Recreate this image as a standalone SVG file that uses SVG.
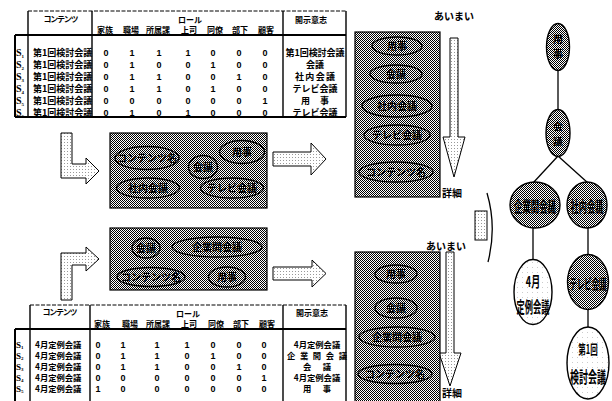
<svg xmlns="http://www.w3.org/2000/svg" width="612" height="401" viewBox="0 0 612 401">
<defs>
<pattern id="dk" width="2" height="2" patternUnits="userSpaceOnUse">
<rect width="2" height="2" fill="#fff"/>
<rect width="1" height="1" fill="#000"/>
<rect x="1" y="1" width="1" height="1" fill="#000"/>
</pattern>
<pattern id="lt" width="3" height="3" patternUnits="userSpaceOnUse">
<rect width="3" height="3" fill="#fff"/>
<rect x="1" y="1" width="1" height="1" fill="#999"/>
</pattern>
<pattern id="wt" width="5" height="5" patternUnits="userSpaceOnUse">
<rect width="5" height="5" fill="#fff"/>
<rect x="2" y="2" width="1" height="1" fill="#ccc"/>
</pattern>
</defs>
<style>
text{font-family:"Noto Sans CJK JP","Liberation Sans",sans-serif;font-weight:bold;fill:#000}
.m{text-anchor:middle}
.hd{font-size:8px;text-anchor:middle}
.tb{font-size:9px}
.tb2{font-size:8.3px}
.num{font-family:"Liberation Sans",sans-serif;font-size:9px;text-anchor:middle}
.s{font-family:"Liberation Serif",serif;font-size:10px}
.s2{font-family:"Liberation Serif",serif;font-size:9px}
.lb{font-size:10px;text-anchor:middle}
.tr{text-anchor:middle}
.ln{stroke:#000;fill:none}
.thin{stroke:#000;stroke-width:1.4;fill:none}
.thick{stroke:#000;stroke-width:2;fill:none}
.dash{stroke:#000;stroke-width:1;stroke-dasharray:4 1.5;fill:none}
.box{fill:url(#dk);stroke:#000;stroke-width:1.2}
.el{fill:url(#dk);stroke:#000;stroke-width:1.4}
.ew{fill:url(#wt);stroke:#000;stroke-width:1.4}
.arr{fill:url(#lt);stroke:#000;stroke-width:1}
</style>

<!-- top table -->
<g id="table-top">
<path class="dash" d="M28,11 H346"/>
<path class="thick" d="M15,35 H346 M15,117 H346 M15,35 V117"/>
<path class="thin" d="M28,11 V117 M92,11 V117 M283,11 V117 M346,11 V117"/>
<text class="hd" x="61" y="22" textLength="35">コンテンツ</text>
<text class="hd" x="190" y="23">ロール</text>
<text class="hd" x="311" y="23">開示意志</text>
<text class="hd" x="105" y="33">家族</text>
<text class="hd" x="131" y="33">職場</text>
<text class="hd" x="158" y="33">所属課</text>
<text class="hd" x="189" y="33">上司</text>
<text class="hd" x="215" y="33">同僚</text>
<text class="hd" x="240" y="33">部下</text>
<text class="hd" x="266" y="33">顧客</text>
<g id="top-r1"><text class="s" x="16" y="55.5">S<tspan font-size="5" dy="2">1</tspan></text><text class="tb" x="33" y="55.5">第1回検討会議</text>
<text class="num" y="55.5"><tspan x="106">0</tspan><tspan x="132">1</tspan><tspan x="159">1</tspan><tspan x="188">1</tspan><tspan x="213">0</tspan><tspan x="239">0</tspan><tspan x="265">0</tspan></text>
<text class="tb m" x="315" y="55.5" textLength="59">第1回検討会議</text></g>
<g id="top-r2"><text class="s" x="16" y="67.5">S<tspan font-size="5" dy="2">2</tspan></text><text class="tb" x="33" y="67.5">第1回検討会議</text>
<text class="num" y="67.5"><tspan x="106">0</tspan><tspan x="132">1</tspan><tspan x="159">0</tspan><tspan x="188">0</tspan><tspan x="213">1</tspan><tspan x="239">0</tspan><tspan x="265">0</tspan></text>
<text class="tb m" x="315" y="67.5">会議</text></g>
<g id="top-r3"><text class="s" x="16" y="79.5">S<tspan font-size="5" dy="2">3</tspan></text><text class="tb" x="33" y="79.5">第1回検討会議</text>
<text class="num" y="79.5"><tspan x="106">0</tspan><tspan x="132">1</tspan><tspan x="159">1</tspan><tspan x="188">0</tspan><tspan x="213">0</tspan><tspan x="239">1</tspan><tspan x="265">0</tspan></text>
<text class="tb m" x="315" y="79.5" textLength="40">社内会議</text></g>
<g id="top-r4"><text class="s" x="16" y="91.5">S<tspan font-size="5" dy="2">4</tspan></text><text class="tb" x="33" y="91.5">第1回検討会議</text>
<text class="num" y="91.5"><tspan x="106">0</tspan><tspan x="132">1</tspan><tspan x="159">1</tspan><tspan x="188">0</tspan><tspan x="213">1</tspan><tspan x="239">0</tspan><tspan x="265">0</tspan></text>
<text class="tb m" x="315" y="91.5">テレビ会議</text></g>
<g id="top-r5"><text class="s" x="16" y="103.5">S<tspan font-size="5" dy="2">5</tspan></text><text class="tb" x="33" y="103.5">第1回検討会議</text>
<text class="num" y="103.5"><tspan x="106">0</tspan><tspan x="132">0</tspan><tspan x="159">0</tspan><tspan x="188">0</tspan><tspan x="213">0</tspan><tspan x="239">0</tspan><tspan x="265">1</tspan></text>
<text class="tb m" x="315" y="103.5" textLength="28">用事</text></g>
<g id="top-r6"><text class="s" x="16" y="115.5">S<tspan font-size="5" dy="2">6</tspan></text><text class="tb" x="33" y="115.5">第1回検討会議</text>
<text class="num" y="115.5"><tspan x="106">0</tspan><tspan x="132">1</tspan><tspan x="159">0</tspan><tspan x="188">1</tspan><tspan x="213">0</tspan><tspan x="239">0</tspan><tspan x="265">0</tspan></text>
<text class="tb m" x="315" y="115.5">テレビ会議</text></g>
</g>

<!-- bottom table -->
<g id="table-bottom">
<path class="dash" d="M30,305 H346"/>
<path class="thick" d="M15,329 H346 M15,329 V401"/>
<path class="thin" d="M30,305 V401 M90,305 V401 M283,305 V401 M346,305 V401"/>
<text class="hd" x="60" y="315" textLength="35">コンテンツ</text>
<text class="hd" x="188" y="317">ロール</text>
<text class="hd" x="312" y="316">開示意志</text>
<text class="hd" x="102" y="327">家族</text>
<text class="hd" x="130" y="327">職場</text>
<text class="hd" x="158" y="327">所属課</text>
<text class="hd" x="189" y="327">上司</text>
<text class="hd" x="216" y="327">同僚</text>
<text class="hd" x="241" y="327">部下</text>
<text class="hd" x="267" y="327">顧客</text>
<g id="bot-r1"><text class="s2" x="16" y="347.5">S<tspan font-size="5" dy="1.5">1</tspan></text><text class="tb2" x="35" y="347.5">4月定例会議</text>
<text class="num" y="347.5"><tspan x="98">0</tspan><tspan x="123">1</tspan><tspan x="157">1</tspan><tspan x="187">1</tspan><tspan x="213">0</tspan><tspan x="239">0</tspan><tspan x="264">0</tspan></text>
<text class="tb2 m" x="317" y="347.5">4月定例会議</text></g>
<g id="bot-r2"><text class="s2" x="16" y="358.5">S<tspan font-size="5" dy="1.5">2</tspan></text><text class="tb2" x="35" y="358.5">4月定例会議</text>
<text class="num" y="358.5"><tspan x="98">0</tspan><tspan x="123">1</tspan><tspan x="157">1</tspan><tspan x="187">0</tspan><tspan x="213">1</tspan><tspan x="239">0</tspan><tspan x="264">0</tspan></text>
<text class="tb2 m" x="317" y="358.5" textLength="60">企業間会議</text></g>
<g id="bot-r3"><text class="s2" x="16" y="369.5">S<tspan font-size="5" dy="1.5">3</tspan></text><text class="tb2" x="35" y="369.5">4月定例会議</text>
<text class="num" y="369.5"><tspan x="98">0</tspan><tspan x="123">1</tspan><tspan x="157">1</tspan><tspan x="187">0</tspan><tspan x="213">0</tspan><tspan x="239">1</tspan><tspan x="264">0</tspan></text>
<text class="tb2 m" x="317" y="369.5" textLength="28">会議</text></g>
<g id="bot-r4"><text class="s2" x="16" y="380.5">S<tspan font-size="5" dy="1.5">4</tspan></text><text class="tb2" x="35" y="380.5">4月定例会議</text>
<text class="num" y="380.5"><tspan x="98">0</tspan><tspan x="123">0</tspan><tspan x="157">0</tspan><tspan x="187">0</tspan><tspan x="213">0</tspan><tspan x="239">0</tspan><tspan x="264">1</tspan></text>
<text class="tb2 m" x="317" y="380.5">4月定例会議</text></g>
<g id="bot-r5"><text class="s2" x="16" y="391.5">S<tspan font-size="5" dy="1.5">5</tspan></text><text class="tb2" x="35" y="391.5">4月定例会議</text>
<text class="num" y="391.5"><tspan x="98">1</tspan><tspan x="123">0</tspan><tspan x="157">0</tspan><tspan x="187">0</tspan><tspan x="213">0</tspan><tspan x="239">0</tspan><tspan x="264">0</tspan></text>
<text class="tb2 m" x="317" y="391.5" textLength="28">用事</text></g>
</g>

<!-- arrows -->
<g id="arrows">
<path class="arr" d="M61,133 H72 V164 H86 V158 L99,171 L86,184 V178 H61 Z"/>
<path class="arr" d="M273,152 H311 V143 L326,159 L311,175 V166 H273 Z"/>
<path class="arr" d="M61,300 V253 H86 V247 L99,259 L86,271 V265 H72 V300 Z"/>
<path class="arr" d="M273,267 H312 V260 L326,273.5 L312,287 V280 H273 Z"/>
<path class="arr" d="M450,38 H458 V137 H465 L454,177 L443,137 H450 Z"/>
<path class="arr" d="M446,252 H454 V353 H461 L450,386 L439,353 H446 Z"/>
<rect class="arr" x="475" y="211" width="12" height="29"/>
<path class="ln" stroke-width="1.3" d="M487,193 Q497,227 488,262"/>
</g>

<!-- top cluster box -->
<g id="cluster-top">
<rect class="box" x="110" y="133" width="157" height="75"/>
<ellipse class="el" cx="147" cy="158" rx="32" ry="11.5"/><text class="lb" x="147" y="161.5">コンテンツ名</text>
<ellipse class="el" cx="203" cy="167" rx="14.5" ry="11.5"/><text class="lb" x="203" y="170.5">会議</text>
<ellipse class="el" cx="242" cy="152" rx="22.5" ry="11.5"/><text class="lb" x="242" y="155.5">用事</text>
<ellipse class="el" cx="148" cy="188" rx="31.5" ry="10"/><text class="lb" x="148" y="191.5">社内会議</text>
<ellipse class="el" cx="232" cy="188" rx="31.5" ry="10"/><text class="lb" x="232" y="191.5">テレビ会議</text>
</g>

<!-- bottom cluster box -->
<g id="cluster-bottom">
<rect class="box" x="110" y="228" width="157" height="62"/>
<ellipse class="el" cx="146" cy="248" rx="14" ry="10"/><text class="lb" x="146" y="251.5">会議</text>
<ellipse class="el" cx="217" cy="247" rx="45" ry="10"/><text class="lb" x="217" y="250.5">企業間会議</text>
<ellipse class="el" cx="151" cy="277" rx="34" ry="9.5"/><text class="lb" x="151" y="280.5">コンテンツ名</text>
<ellipse class="el" cx="227" cy="277" rx="18.5" ry="10"/><text class="lb" x="227" y="280.5">用事</text>
</g>

<!-- top ordered column -->
<g id="order-top">
<text class="lb" x="454" y="20">あいまい</text>
<rect class="box" x="355" y="32" width="85" height="165"/>
<ellipse class="el" cx="397" cy="46" rx="25" ry="9"/><text class="lb" x="397" y="49.5">用事</text>
<ellipse class="el" cx="396" cy="74" rx="26" ry="9"/><text class="lb" x="396" y="77.5">会議</text>
<ellipse class="el" cx="397" cy="106" rx="35" ry="11"/><text class="lb" x="397" y="109.5">社内会議</text>
<ellipse class="el" cx="397" cy="135" rx="33" ry="10"/><text class="lb" x="397" y="138.5">テレビ会議</text>
<ellipse class="el" cx="396" cy="172" rx="37" ry="10"/><text class="lb" x="396" y="175.5">コンテンツ名</text>
<text x="442" y="197" font-size="10">詳細</text>
</g>

<!-- bottom ordered column -->
<g id="order-bottom">
<text class="lb" x="446" y="250">あいまい</text>
<rect class="box" x="355" y="252" width="85" height="160"/>
<ellipse class="el" cx="396" cy="274" rx="21" ry="9"/><text class="lb" x="396" y="277.5">用事</text>
<ellipse class="el" cx="396" cy="308" rx="21" ry="10"/><text class="lb" x="396" y="311.5">会議</text>
<ellipse class="el" cx="397" cy="337" rx="38" ry="10"/><text class="lb" x="397" y="340.5">企業間会議</text>
<ellipse class="el" cx="395" cy="374" rx="37" ry="9.5"/><text class="lb" x="395" y="377.5">コンテンツ名</text>
<text x="442" y="397" font-size="10">詳細</text>
</g>

<!-- tree connectors -->
<g id="tree-edges" class="ln" stroke-width="1.3">
<path d="M558,70 V110"/>
<path d="M558,156 L533,183"/>
<path d="M558,156 L588,183"/>
<path d="M533,228 V260"/>
<path d="M588,228 V255"/>
<path d="M588,310 V327"/>
</g>

<!-- tree nodes -->
<g id="node-yoji"><ellipse class="el" cx="558" cy="47" rx="11.5" ry="23.5"/><text class="tr" font-size="10" x="558" y="43">用</text><text class="tr" font-size="10" x="558" y="58">事</text></g>
<g id="node-kaigi"><ellipse class="el" cx="558" cy="133" rx="12" ry="23.5"/><text class="tr" font-size="9.5" x="558" y="130">会</text><text class="tr" font-size="9.5" x="558" y="145">議</text></g>
<g id="node-kigyokan"><ellipse class="el" cx="535" cy="205" rx="25" ry="23"/><text class="tr" transform="translate(535,212) scale(1,1.8)" font-size="8.4">企業間会議</text></g>
<g id="node-shanai"><ellipse class="el" cx="587" cy="205" rx="20" ry="23"/><text class="tr" transform="translate(587,212) scale(1,1.8)" font-size="8.2">社内会議</text></g>
<g id="node-4gatsu"><ellipse class="ew" cx="533" cy="292" rx="19" ry="32.5"/><text class="tr" transform="translate(533,287) scale(1,1.6)" font-size="9">4月</text><text class="tr" transform="translate(533,313) scale(1,1.9)" font-size="8.2">定例会議</text></g>
<g id="node-terebi"><ellipse class="el" cx="588" cy="282" rx="20.5" ry="27.5"/><text class="tr" transform="translate(588,289) scale(1,1.9)" font-size="7.4">テレビ会議</text></g>
<g id="node-dai1kai"><ellipse class="ew" cx="588" cy="363" rx="21" ry="36"/><text class="tr" transform="translate(588,354) scale(1,1.7)" font-size="7.5">第1回</text><text class="tr" transform="translate(588,383) scale(1,1.8)" font-size="9">検討会議</text></g>
</svg>
